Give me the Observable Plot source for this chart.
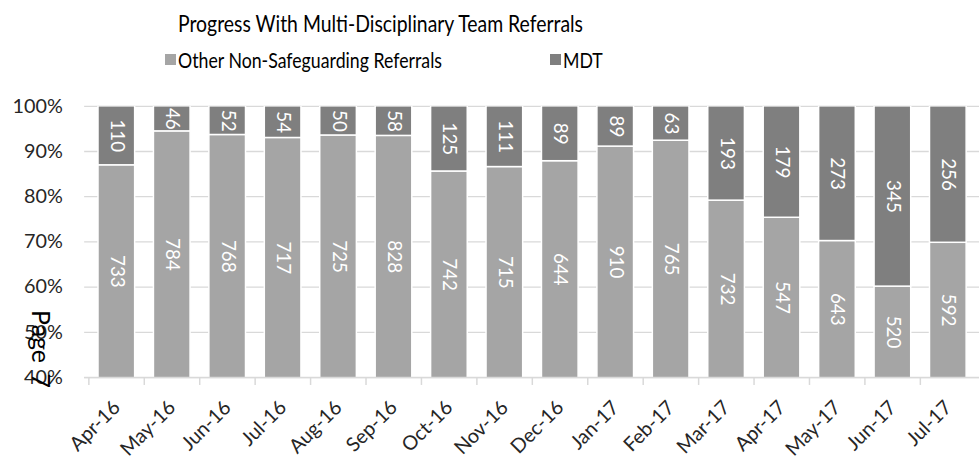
<!DOCTYPE html>
<html>
<head>
<meta charset="utf-8">
<script src="https://cdn.jsdelivr.net/npm/d3@7"></script>
<script src="https://cdn.jsdelivr.net/npm/@observablehq/plot@0.6"></script>
<style>
html, body { margin: 0; padding: 0; background: #fff; overflow: hidden; }
#wrap { position: relative; width: 980px; height: 465px; overflow: hidden; background: #fff; }
#title { position: absolute; left: 178px; top: 9px; line-height: 1; transform-origin: 0 0;
  font: 23px Lato, "Liberation Sans", sans-serif; color: #000; white-space: nowrap; }
.leg { position: absolute; top: 47px; line-height: 1; transform-origin: 0 0; font: 21px Lato, "Liberation Sans", sans-serif; color: #000; white-space: nowrap; }
.sw { position: absolute; top: 54px; width: 11px; height: 11px; }
#chart { position: absolute; left: 0; top: 88px; }
#page { position: absolute; left: 41px; top: 349px; transform: translate(-50%, -50%) rotate(90deg);
  font: 25px Lato, "Liberation Sans", sans-serif; color: #000; line-height: 1; white-space: nowrap; word-spacing: 4px; }
</style>
</head>
<body>
<div id="wrap">
  <div id="title">Progress With Multi-Disciplinary Team Referrals</div>
  <div class="sw" id="sw0" style="left:165px"></div>
  <div class="leg" id="leg0" style="left:178px"></div>
  <div class="sw" id="sw1" style="left:550px"></div>
  <div class="leg" id="leg1" style="left:563px"></div>
  <div id="chart"></div>
  <div id="page">Page 7</div>
</div>
<script>
const months = ["Apr-16","May-16","Jun-16","Jul-16","Aug-16","Sep-16","Oct-16","Nov-16","Dec-16","Jan-17","Feb-17","Mar-17","Apr-17","May-17","Jun-17","Jul-17"];
const otherRefs = [733,784,768,717,725,828,742,715,644,910,765,732,547,643,520,592];
const mdtRefs = [110,46,52,54,50,58,125,111,89,89,63,193,179,273,345,256];
const seriesNames = ["Other Non-Safeguarding Referrals", "MDT"];
const seriesColors = ["#A5A5A5", "#7F7F7F"];
const yTicks = [0.4, 0.5, 0.6, 0.7, 0.8, 0.9, 1.0];
const yTickLabels = ["40%","50%","60%","70%","80%","90%","100%"];

document.getElementById("leg0").textContent = seriesNames[0];
document.getElementById("leg1").textContent = seriesNames[1];
document.getElementById("sw0").style.background = seriesColors[0];
document.getElementById("sw1").style.background = seriesColors[1];

function fitWidth(el, target) {
  const w = el.getBoundingClientRect().width;
  const s = target / w;
  el.style.transform = `scaleX(${s})`;
  return s;
}
fitWidth(document.getElementById("title"), 405);
const ls = fitWidth(document.getElementById("leg0"), 264);
document.getElementById("leg1").style.transform = `scaleX(${ls})`;

const rows = [];
months.forEach((m, i) => {
  const total = otherRefs[i] + mdtRefs[i];
  const f = otherRefs[i] / total;
  rows.push({month: m, series: seriesNames[0], value: otherRefs[i], y1: 0, y2: f});
  rows.push({month: m, series: seriesNames[1], value: mdtRefs[i], y1: f, y2: 1});
});

const W = 990, ML = 85, MR = 1;
const step = (W - ML - MR) / months.length;
const yMin = yTicks[0];

const chart = Plot.plot({
  width: W,
  height: 377,
  marginTop: 18,
  marginBottom: 85,
  marginLeft: ML,
  marginRight: MR,
  style: { fontFamily: "Lato, 'Liberation Sans', sans-serif", background: "transparent", overflow: "visible" },
  x: { domain: months, paddingInner: 0.345, paddingOuter: 0.1725, label: null },
  y: { domain: [yMin, 1], label: null },
  color: { domain: seriesNames, range: seriesColors },
  marks: [
    Plot.ruleY(yTicks, { stroke: "#D9D9D9", strokeWidth: 1.3 }),
    Plot.barY(rows, { x: "month", y1: "y1", y2: "y2", fill: "series", stroke: "white", strokeWidth: 1.5, clip: true }),
    Plot.ruleY([yMin], { stroke: "#D9D9D9", strokeWidth: 1.5 }),
    Plot.ruleX(months, { x: d => d, y1: yMin, y2: yMin, dx: -step / 2, insetBottom: -8, stroke: "#D9D9D9", strokeWidth: 1.5 }),
    Plot.text(rows, {
      x: "month",
      y: d => (Math.max(d.y1, yMin) + d.y2) / 2,
      text: d => String(d.value),
      rotate: 90,
      fill: "white",
      fontSize: 19
    }),
    Plot.axisY(yTicks, { tickFormat: d => yTickLabels[yTicks.indexOf(d)], tickSize: 0, tickPadding: 22, fontSize: 20, fill: "#262626", label: null }),
    Plot.axisX({ tickRotate: -45, tickSize: 0, tickPadding: 27, fontSize: 20, fill: "#262626", label: null })
  ]
});
document.getElementById("chart").appendChild(chart);
</script>
</body>
</html>
